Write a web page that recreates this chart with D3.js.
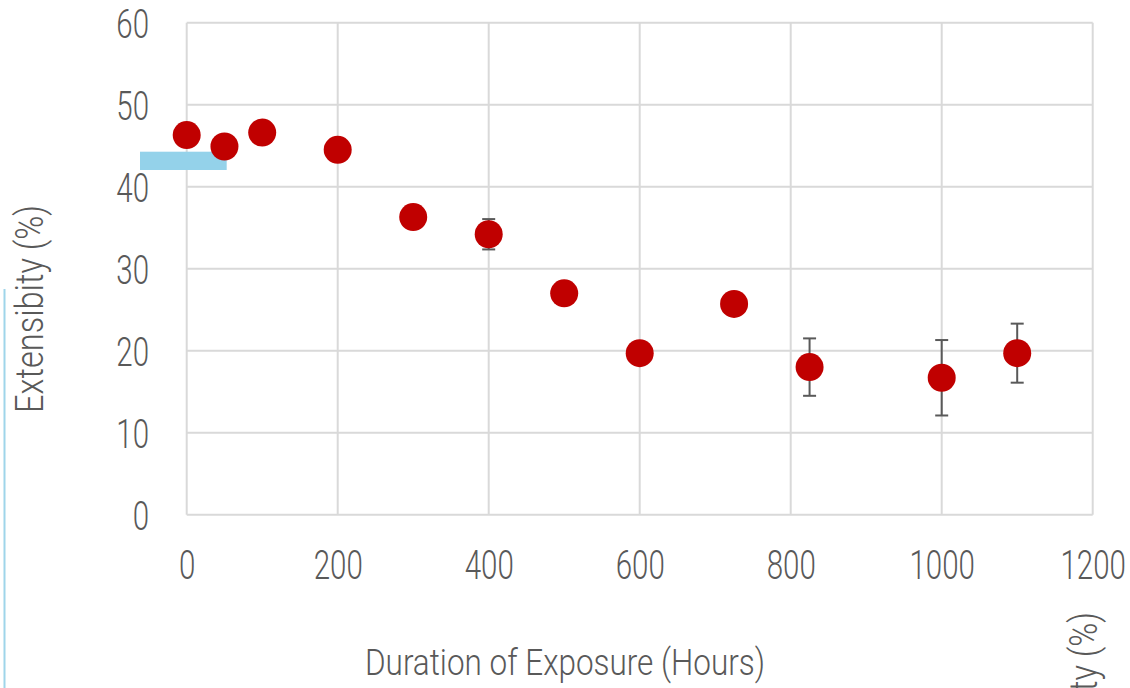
<!DOCTYPE html>
<html><head><meta charset="utf-8">
<script src="https://cdn.jsdelivr.net/npm/d3@7"></script>
<style>
html,body{margin:0;padding:0;background:#fff;}
svg{display:block;}
text{font-family:Roboto,"Open Sans",sans-serif;font-weight:300;fill:#595959;}
</style></head>
<body>
<svg id="chart" width="1130" height="688"></svg>
<script>
// ---- data ----
const hours = [0, 50, 100, 200, 300, 400, 500, 600, 725, 825, 1000, 1100];
const extensibility = [46.3, 44.9, 46.6, 44.5, 36.3, 34.2, 27.0, 19.7, 25.7, 18.0, 16.7, 19.7];
const errors = [0, 0, 0, 0, 0, 1.85, 0, 0, 0, 3.5, 4.6, 3.6];
const xTicks = [0, 200, 400, 600, 800, 1000, 1200];
const yTicks = [0, 10, 20, 30, 40, 50, 60];
const xTitle = "Duration of Exposure (Hours)";
const yTitle = "Extensibity (%)";

(function () {
const svg = d3.select("#chart");
const pl = 186.7, pr = 1092.7, pt = 22.7, pb = 514.7;
const x = d3.scaleLinear().domain([0, 1200]).range([pl, pr]);
const y = d3.scaleLinear().domain([0, 60]).range([pb, pt]);
const grid = "#d9d9d9";
const SX = 0.72;

// gridlines
svg.append("g").selectAll("line").data(xTicks).join("line")
  .attr("x1", d => x(d)).attr("x2", d => x(d)).attr("y1", pt).attr("y2", pb)
  .attr("stroke", grid).attr("stroke-width", 2);
svg.append("g").selectAll("line").data(yTicks).join("line")
  .attr("x1", pl).attr("x2", pr).attr("y1", d => y(d)).attr("y2", d => y(d))
  .attr("stroke", grid).attr("stroke-width", 2);

// axes (labels only)
const gx = svg.append("g").attr("transform", `translate(0,${pb})`)
  .call(d3.axisBottom(x).tickValues(xTicks).tickSize(0).tickFormat(d3.format("d")));
gx.select(".domain").remove();
gx.selectAll("text").attr("y", 64).attr("dy", null)
  .attr("transform", `scale(${SX},1)`)
  .style("font-size", "41px").style("font-family", "Roboto, sans-serif").style("font-weight", 300).attr("fill", "#595959");

const gy = svg.append("g").attr("transform", `translate(${pl},0)`)
  .call(d3.axisLeft(y).tickValues(yTicks).tickSize(0).tickFormat(d3.format("d")));
gy.select(".domain").remove();
gy.selectAll("text").attr("x", -37.7 / SX).attr("dy", "0.35em")
  .attr("transform", `scale(${SX},1)`)
  .style("font-size", "41px").style("font-family", "Roboto, sans-serif").style("font-weight", 300).attr("fill", "#595959");

// decorative artifacts
svg.append("rect").attr("x", 140).attr("y", 151.7).attr("width", 86.7).attr("height", 18.3).attr("fill", "#94d2ea");
svg.append("line").attr("x1", 4.5).attr("x2", 4.5).attr("y1", 289).attr("y2", 688).attr("stroke", "#9fd5ea").attr("stroke-width", 2);

// titles
svg.append("text").attr("x", 565).attr("y", 675).attr("text-anchor", "middle")
  .style("font-size", "37px").attr("textLength", 400).attr("lengthAdjust", "spacingAndGlyphs").text(xTitle);
svg.append("text").attr("transform", "translate(43,309) rotate(-90)").attr("text-anchor", "middle")
  .style("font-size", "38px").attr("textLength", 208).attr("lengthAdjust", "spacingAndGlyphs").text(yTitle);
svg.append("text").attr("transform", "translate(1097,612) rotate(-90)").attr("text-anchor", "end")
  .style("font-size", "38px").attr("textLength", 208).attr("lengthAdjust", "spacingAndGlyphs").text(yTitle);

// data
const pts = hours.map((h, i) => ({h, v: extensibility[i], e: errors[i]}));
const eb = svg.append("g").attr("stroke", "#595959").attr("stroke-width", 2);
pts.filter(d => d.e > 0).forEach(d => {
  const cx = x(d.h), y1 = y(d.v + d.e), y2 = y(d.v - d.e);
  eb.append("line").attr("x1", cx).attr("x2", cx).attr("y1", y1).attr("y2", y2);
  eb.append("line").attr("x1", cx - 6.5).attr("x2", cx + 6.5).attr("y1", y1).attr("y2", y1);
  eb.append("line").attr("x1", cx - 6.5).attr("x2", cx + 6.5).attr("y1", y2).attr("y2", y2);
});
svg.append("g").selectAll("circle").data(pts).join("circle")
  .attr("cx", d => x(d.h)).attr("cy", d => y(d.v)).attr("r", 14).attr("fill", "#c00000");
})();
</script>
</body></html>
